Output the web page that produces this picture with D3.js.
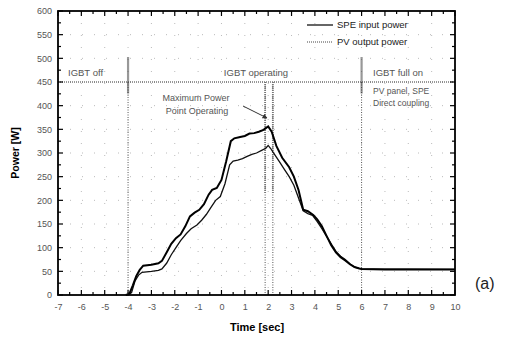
<!DOCTYPE html>
<html>
<head>
<meta charset="utf-8">
<script src="https://cdn.jsdelivr.net/npm/d3@7"></script>
<style>
  body { margin: 0; background: #fff; }
  text { font-family: Arial, "Liberation Sans", sans-serif; }
</style>
</head>
<body>
<div class="chart_a"></div>
<script>

// time [sec] / power [W]
const speTime = [-4.1, -3.95, -3.8, -3.65, -3.5, -3.35, -3.0, -2.7, -2.55, -2.35, -2.15, -1.95, -1.75, -1.55, -1.35, -1.15, -0.95, -0.75, -0.55, -0.4, -0.2, 0.0, 0.2, 0.4, 0.55, 0.8, 1.0, 1.2, 1.4, 1.6, 1.8, 2.0, 2.15, 2.35, 2.6, 2.9, 3.1, 3.3, 3.5, 3.7, 3.93, 4.1, 4.3, 4.5, 4.7, 4.9, 5.1, 5.3, 5.5, 5.7, 5.9, 6.0, 7, 8, 9, 10]
const spePower = [0, 2, 20, 40, 53, 62, 64, 67, 72, 90, 108, 120, 128, 145, 166, 174, 180, 192, 212, 222, 226, 243, 282, 325, 331, 334, 336, 341, 342, 345, 349, 356, 345, 315, 290, 270, 250, 222, 180, 177, 169, 160, 145, 125, 105, 90, 80, 73, 65, 59, 56, 55, 54, 54, 54, 54]

const pvTime = [-4.0, -3.85, -3.7, -3.55, -3.4, -3.0, -2.7, -2.55, -2.35, -2.15, -1.95, -1.75, -1.5, -1.3, -1.05, -0.85, -0.65, -0.45, -0.25, -0.05, 0.15, 0.35, 0.5, 0.7, 0.9, 1.1, 1.3, 1.5, 1.7, 1.9, 2.0, 2.1, 2.3, 2.5, 2.7, 2.9, 3.1, 3.3, 3.5, 3.7, 3.9, 4.1, 4.3, 4.5, 4.7, 4.9, 5.1, 5.3, 5.5, 5.7, 5.9, 6.0, 10]
const pvPower = [0, 5, 30, 42, 48, 50, 52, 55, 67, 85, 100, 115, 130, 140, 148, 158, 170, 185, 200, 208, 235, 275, 283, 285, 288, 293, 297, 300, 305, 310, 316, 310, 295, 280, 265, 250, 232, 205, 178, 172, 168, 155, 140, 124, 108, 92, 82, 75, 66, 59, 56, 55, 54]

const xTicks = d3.range(-7, 11, 1)
const yTicks = d3.range(0, 601, 50)

// IGBT switching instants
const markers = [-4, 1.87, 2.2, 6]

const seriesNames = ["SPE input power", "PV output power"]

function drawChart () {

  const dimensions = {
    width: 511,
    height: 337,
    margin: { top: 11, right: 56, bottom: 42, left: 58 }
  }
  dimensions.boundedWidth = dimensions.width - dimensions.margin.left - dimensions.margin.right
  dimensions.boundedHeight = dimensions.height - dimensions.margin.top - dimensions.margin.bottom

  const wrapper = d3.select(".chart_a")
    .append("svg")
    .attr("width", dimensions.width)
    .attr("height", dimensions.height)

  const bounds = wrapper.append("g")
    .attr("transform", `translate(${dimensions.margin.left},${dimensions.margin.top})`)

  const x = d3.scaleLinear().domain([-7, 10]).range([0, dimensions.boundedWidth])
  const y = d3.scaleLinear().domain([0, 600]).range([dimensions.boundedHeight, 0])

  // faint sparse dotted grid
  const grid = bounds.append("g").attr("stroke", "#aaa").attr("stroke-width", 0.8).attr("stroke-dasharray", "1,11")
  grid.selectAll("line.gy").data(yTicks.slice(1, -1)).join("line")
    .attr("x1", 0).attr("x2", dimensions.boundedWidth)
    .attr("y1", d => y(d)).attr("y2", d => y(d))
  grid.selectAll("line.gx").data(xTicks.slice(1, -1)).join("line")
    .attr("y1", 0).attr("y2", dimensions.boundedHeight)
    .attr("x1", d => x(d)).attr("x2", d => x(d))

  // 450 W level line
  bounds.append("line")
    .attr("x1", 0).attr("x2", dimensions.boundedWidth)
    .attr("y1", y(450)).attr("y2", y(450))
    .attr("stroke", "#333").attr("stroke-width", 1).attr("stroke-dasharray", "1,1")

  // vertical markers: thin dotted down to axis, heavy hatched part near top
  markers.forEach(m => {
    const outer = (m === -4 || m === 6)
    bounds.append("line")
      .attr("x1", x(m)).attr("x2", x(m))
      .attr("y1", y(450)).attr("y2", y(0))
      .attr("stroke", "#555").attr("stroke-width", 1).attr("stroke-dasharray", "1,1.5")
    bounds.append("line")
      .attr("x1", x(m)).attr("x2", x(m))
      .attr("y1", y(outer ? 502 : 450)).attr("y2", y(outer ? 425 : 215))
      .attr("stroke", outer ? "#333" : "#777").attr("stroke-width", outer ? 2.2 : 1.8)
      .attr("stroke-dasharray", "1,1")
  })

  const line = d3.line().x(d => x(d[0])).y(d => y(d[1]))

  bounds.append("path")
    .datum(d3.zip(pvTime, pvPower))
    .attr("d", line)
    .attr("fill", "none").attr("stroke", "#111").attr("stroke-width", 1.3)

  bounds.append("path")
    .datum(d3.zip(speTime, spePower))
    .attr("d", line)
    .attr("fill", "none").attr("stroke", "#000").attr("stroke-width", 2)

  // frame ticks, all pointing inward
  const minorX = d3.range(-7, 10.01, 0.5)
  const minorY = d3.range(0, 601, 25)
  const tickLen = (v, step) => (Math.abs(v / step - Math.round(v / step)) < 1e-6 ? 5 : 3)

  const ticks = bounds.append("g").attr("stroke", "#000").attr("stroke-width", 1.2)
  ticks.selectAll("line.bx").data(minorX).join("line")
    .attr("x1", d => x(d)).attr("x2", d => x(d))
    .attr("y1", dimensions.boundedHeight).attr("y2", d => dimensions.boundedHeight - tickLen(d, 1))
  ticks.selectAll("line.tx").data(minorX).join("line")
    .attr("x1", d => x(d)).attr("x2", d => x(d))
    .attr("y1", 0).attr("y2", d => tickLen(d, 1))
  ticks.selectAll("line.ly").data(minorY).join("line")
    .attr("y1", d => y(d)).attr("y2", d => y(d))
    .attr("x1", 0).attr("x2", d => tickLen(d, 50))
  ticks.selectAll("line.ry").data(minorY).join("line")
    .attr("y1", d => y(d)).attr("y2", d => y(d))
    .attr("x1", dimensions.boundedWidth).attr("x2", d => dimensions.boundedWidth - tickLen(d, 50))

  bounds.append("rect")
    .attr("width", dimensions.boundedWidth).attr("height", dimensions.boundedHeight)
    .attr("fill", "none").attr("stroke", "#000").attr("stroke-width", 1.8)

  // tick labels (plain hyphen minus, as in the figure)
  const xAxis = d3.axisBottom(x).tickValues(xTicks).tickFormat(d => String(d)).tickSize(0).tickPadding(9)
  const yAxis = d3.axisLeft(y).tickValues(yTicks).tickFormat(d => String(d)).tickSize(0).tickPadding(6)

  bounds.append("g")
    .attr("transform", `translate(0,${dimensions.boundedHeight})`)
    .call(xAxis)
    .call(g => g.select(".domain").remove())
    .selectAll("text").attr("font-size", 9).attr("fill", "#555")

  bounds.append("g")
    .call(yAxis)
    .call(g => g.select(".domain").remove())
    .selectAll("text").attr("font-size", 9).attr("fill", "#555")

  // axis titles
  wrapper.append("text")
    .attr("x", 257).attr("y", 331)
    .attr("text-anchor", "middle")
    .attr("font-size", 11).attr("font-weight", "bold")
    .text("Time [sec]")

  wrapper.append("text")
    .attr("transform", "translate(19,153) rotate(-90)")
    .attr("text-anchor", "middle")
    .attr("font-size", 10.5).attr("font-weight", "bold")
    .text("Power [W]")

  // region annotations
  const note = (tx, ty, str, anchor) => wrapper.append("text")
    .attr("x", tx).attr("y", ty)
    .attr("text-anchor", anchor || "start")
    .attr("font-size", 9.5).attr("fill", "#555")
    .text(str)

  note(68, 76, "IGBT off")
  note(256, 76, "IGBT operating", "middle")
  note(373, 76, "IGBT full on")
  note(373, 94, "PV panel, SPE").attr("font-size", 8.5)
  note(373, 106, "Direct coupling").attr("font-size", 8.5)
  note(196, 101, "Maximum Power", "middle").attr("font-size", 9)
  note(197, 114, "Point Operating", "middle").attr("font-size", 9)

  wrapper.append("defs").append("marker")
    .attr("id", "arr").attr("viewBox", "0 0 10 10")
    .attr("refX", 9).attr("refY", 5)
    .attr("markerWidth", 5).attr("markerHeight", 5)
    .attr("orient", "auto")
    .append("path").attr("d", "M0,0L10,5L0,10z").attr("fill", "#333")

  wrapper.append("line")
    .attr("x1", 243).attr("y1", 106)
    .attr("x2", 267).attr("y2", 118)
    .attr("stroke", "#333").attr("stroke-width", 1)
    .attr("marker-end", "url(#arr)")

  // legend
  const legend = wrapper.append("g").attr("transform", "translate(307,0)")
  legend.append("line")
    .attr("x1", 0).attr("x2", 26).attr("y1", 25).attr("y2", 25)
    .attr("stroke", "#000").attr("stroke-width", 1.2)
  legend.append("line")
    .attr("x1", 0).attr("x2", 26).attr("y1", 42).attr("y2", 42)
    .attr("stroke", "#444").attr("stroke-width", 1).attr("stroke-dasharray", "1,1")
  legend.selectAll("text").data(seriesNames).join("text")
    .attr("x", 30).attr("y", (d, i) => 28 + i * 17)
    .attr("font-size", 9.5).attr("fill", "#222")
    .text(d => d)

  wrapper.append("text")
    .attr("x", 475).attr("y", 289)
    .attr("font-size", 16).attr("fill", "#222")
    .attr("font-family", "'DejaVu Sans', sans-serif")
    .text("(a)")
}

drawChart()
</script>
</body>
</html>
